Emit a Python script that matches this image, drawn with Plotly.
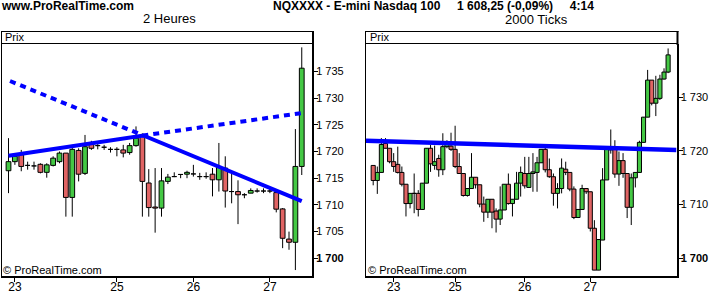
import plotly.graph_objects as go

W, H = 710, 293

# ------------------------------------------------------------------ data
# Left panel: 2-hour candles (open, high, low, close)
left_open = [1716.4, 1718.1, 1719.4, 1717.4, 1717.3, 1717.6, 1716.1, 1717.4, 1718.1, 1719.7,
             1711.4, 1720.2, 1715.9, 1721.5, 1721.1, 1720.8, 1720.4, 1720.4, 1720.3, 1719.8,
             1721.1, 1723.1, 1714.1, 1709.6, 1709.4, 1714.4, 1715.3, 1715.7, 1715.75, 1715.8,
             1715.3, 1715.3, 1715.75, 1714.7, 1716.9, 1712.5, 1712.5, 1711.9, 1712.2, 1712.6,
             1712.6, 1712.6, 1712.3, 1709.25, 1703.6, 1703.0, 1717.2]
left_high = [1722.5, 1719.7, 1720.3, 1718.1, 1718.1, 1717.8, 1717.8, 1719.1, 1720.0, 1719.7,
             1721.25, 1720.6, 1723.1, 1722.0, 1721.6, 1721.25, 1720.8, 1720.8, 1721.25, 1721.6,
             1724.7, 1723.4, 1716.7, 1716.9, 1716.9, 1715.8, 1716.1, 1715.75, 1716.4, 1717.5,
             1716.0, 1716.1, 1716.9, 1721.6, 1719.1, 1716.25, 1714.6, 1712.2, 1713.1, 1713.1,
             1713.1, 1713.2, 1712.5, 1709.4, 1705.0, 1724.2, 1739.5]
left_low = [1712.2, 1717.5, 1716.3, 1716.6, 1716.6, 1715.9, 1715.1, 1717.2, 1717.8, 1707.8,
            1707.8, 1714.4, 1715.6, 1720.3, 1720.4, 1720.3, 1719.8, 1719.1, 1718.9, 1719.4,
            1720.9, 1707.8, 1707.8, 1704.8, 1707.8, 1713.9, 1715.2, 1715.0, 1715.0, 1715.3,
            1714.7, 1714.9, 1711.6, 1712.5, 1709.5, 1710.3, 1706.4, 1711.25, 1712.2, 1712.3,
            1712.2, 1712.2, 1708.6, 1701.9, 1701.6, 1697.8, 1715.6]
left_close = [1718.1, 1719.1, 1717.2, 1717.4, 1717.3, 1716.1, 1717.5, 1718.75, 1719.7, 1711.4,
              1720.4, 1715.75, 1720.9, 1720.6, 1721.1, 1720.8, 1720.4, 1720.4, 1719.7, 1721.1,
              1722.5, 1714.4, 1709.5, 1709.4, 1714.5, 1715.2, 1715.3, 1715.7, 1716.1, 1715.8,
              1715.3, 1715.3, 1714.7, 1717.2, 1712.6, 1712.5, 1711.9, 1711.9, 1712.7, 1712.6,
              1712.6, 1712.6, 1709.2, 1703.75, 1703.0, 1717.2, 1735.6]

# Right panel: 2000-tick candles
right_open = [1717.3, 1714.5, 1716.0, 1721.4, 1720.5, 1718.0, 1717.5, 1716.0, 1713.8, 1710.2,
              1712.1, 1712.1, 1709.1, 1714.0, 1720.5, 1717.3, 1718.6, 1716.5, 1720.8, 1720.9,
              1720.3, 1717.1, 1715.8, 1711.7, 1713.0, 1715.1, 1713.7, 1710.1, 1708.6, 1711.0,
              1708.8, 1707.3, 1709.0, 1713.8, 1710.2, 1711.0, 1714.0, 1715.8, 1713.2, 1715.8,
              1716.0, 1717.8, 1720.3, 1716.5, 1715.2, 1712.1, 1713.0, 1716.6, 1716.0, 1712.9,
              1707.6, 1709.1, 1713.0, 1712.4, 1705.6, 1697.8, 1703.4, 1714.6, 1720.5, 1720.3,
              1715.7, 1718.2, 1715.8, 1709.5, 1715.0, 1716.0, 1721.6, 1726.3, 1733.2, 1728.9,
              1729.8, 1733.4, 1734.7]
right_high = [1717.3, 1717.1, 1722.4, 1722.4, 1720.5, 1719.6, 1720.8, 1717.1, 1713.8, 1712.1,
              1715.8, 1712.7, 1714.0, 1720.5, 1721.1, 1721.0, 1719.3, 1723.3, 1722.0, 1723.4,
              1724.7, 1719.6, 1715.8, 1713.0, 1719.6, 1715.1, 1713.7, 1711.5, 1711.0, 1711.0,
              1709.3, 1713.4, 1713.8, 1715.8, 1711.0, 1716.1, 1717.1, 1718.9, 1718.9, 1719.6,
              1718.9, 1720.3, 1721.1, 1718.6, 1715.8, 1714.0, 1718.6, 1718.0, 1716.0, 1713.4,
              1709.1, 1713.7, 1713.0, 1712.4, 1707.1, 1703.5, 1716.8, 1720.8, 1724.0, 1722.0,
              1719.9, 1719.6, 1715.8, 1715.8, 1716.0, 1721.9, 1726.3, 1735.1, 1733.2, 1734.0,
              1734.2, 1735.4, 1739.1]
right_low = [1713.6, 1712.0, 1716.0, 1720.5, 1717.7, 1716.1, 1715.8, 1713.4, 1707.8, 1709.3,
             1708.4, 1707.8, 1709.0, 1714.0, 1716.1, 1716.5, 1715.2, 1715.5, 1720.5, 1720.0,
             1716.8, 1715.8, 1711.5, 1711.5, 1713.0, 1713.0, 1709.5, 1706.8, 1707.5, 1705.6,
             1704.8, 1706.2, 1709.0, 1710.0, 1707.8, 1711.0, 1711.5, 1713.0, 1713.2, 1712.4,
             1712.4, 1717.8, 1716.0, 1715.0, 1709.8, 1709.3, 1712.1, 1715.5, 1712.5, 1707.3,
             1707.5, 1709.0, 1712.0, 1705.0, 1697.8, 1697.8, 1703.4, 1714.6, 1719.5, 1715.0,
             1713.5, 1715.0, 1707.5, 1706.2, 1713.2, 1716.0, 1721.6, 1726.3, 1728.5, 1726.5,
             1729.5, 1733.3, 1734.5]
right_close = [1714.5, 1716.0, 1721.2, 1720.5, 1718.0, 1717.1, 1716.0, 1713.8, 1710.2, 1712.1,
               1712.1, 1709.1, 1714.0, 1720.5, 1717.6, 1718.0, 1716.5, 1720.8, 1721.4, 1720.3,
               1717.1, 1715.8, 1711.7, 1713.0, 1715.1, 1713.7, 1710.1, 1708.6, 1711.0, 1708.6,
               1707.3, 1709.0, 1713.8, 1710.2, 1711.0, 1714.0, 1716.0, 1713.5, 1715.8, 1716.1,
               1717.8, 1720.3, 1716.5, 1715.2, 1712.1, 1713.0, 1716.8, 1716.0, 1712.9, 1707.6,
               1709.1, 1713.0, 1712.4, 1705.6, 1697.8, 1703.5, 1714.6, 1720.5, 1720.2, 1715.7,
               1718.2, 1715.8, 1709.5, 1715.0, 1716.0, 1721.6, 1726.3, 1733.2, 1728.9, 1729.8,
               1733.4, 1734.7, 1737.9]

# Trend lines (bar index, price)
left_solid_x = [0, 21.15, 46]
left_solid_y = [1719.2, 1723.0, 1710.7]
left_dash_x = [0.24, 21.15, 46]
left_dash_y = [1733.2, 1723.0, 1727.2]
right_line_x = [-1.76, 74.05]
right_line_y = [1721.9, 1720.2]

# Axis ticks
left_day_idx = [1, 17, 29, 41]
left_day_lbl = ["23", "25", "26", "27"]
right_day_idx = [5, 20, 37, 53]
right_day_lbl = ["23", "25", "26", "27"]
left_price_ticks = [1700, 1705, 1710, 1715, 1720, 1725, 1730, 1735]
right_price_ticks = [1700, 1710, 1720, 1730]

# ------------------------------------------------------------------ helpers
GREEN = "#44c844"
RED = "#e06464"
BLUE = "#0000ff"
FONT = "Liberation Sans, Arial, sans-serif"


def px(x):
    return x / W


def py(y):
    return 1 - y / H


def price_label(v):
    s = f"{v // 1000} {v % 1000:03d}"
    if v == 1700:
        return f"<b>{s}</b>"
    return s


fig = go.Figure()


def add_candles(o, h, l, c, width, xa, ya):
    n = len(o)
    wx, wy = [], []
    for i in range(n):
        wx += [i, i, None]
        wy += [l[i], h[i], None]
    fig.add_trace(go.Scatter(x=wx, y=wy, mode="lines", line=dict(color="black", width=1),
                             xaxis=xa, yaxis=ya, hoverinfo="skip", showlegend=False))
    for up, col in ((True, GREEN), (False, RED)):
        bx, by = [], []
        for i in range(n):
            if (c[i] >= o[i]) == up:
                x0, x1 = i - width / 2, i + width / 2
                bx += [x0, x1, x1, x0, x0, None]
                by += [o[i], o[i], c[i], c[i], o[i], None]
        fig.add_trace(go.Scatter(x=bx, y=by, mode="lines", fill="toself", fillcolor=col,
                                 line=dict(color="black", width=1), xaxis=xa, yaxis=ya,
                                 hoverinfo="skip", showlegend=False))


add_candles(left_open, left_high, left_low, left_close, 0.75, "x", "y")
add_candles(right_open, right_high, right_low, right_close, 1.0, "x2", "y2")

fig.add_trace(go.Scatter(x=left_dash_x, y=left_dash_y, mode="lines",
                         line=dict(color=BLUE, width=4, dash="6px,5px"),
                         xaxis="x", yaxis="y", hoverinfo="skip", showlegend=False))
fig.add_trace(go.Scatter(x=left_solid_x, y=left_solid_y, mode="lines",
                         line=dict(color=BLUE, width=4),
                         xaxis="x", yaxis="y", hoverinfo="skip", showlegend=False))
fig.add_trace(go.Scatter(x=right_line_x, y=right_line_y, mode="lines",
                         line=dict(color=BLUE, width=4.5),
                         xaxis="x2", yaxis="y2", hoverinfo="skip", showlegend=False))

# ------------------------------------------------------------------ axes
L_X0, L_X1 = 2, 312
R_X0, R_X1 = 366, 676.5
Y_TOP, Y_BOT = 44, 276

common_x = dict(showgrid=False, zeroline=False, showline=True, linewidth=2, linecolor="black",
                ticks="outside", ticklen=4, tickwidth=1, tickcolor="black",
                tickfont=dict(family=FONT, size=12, color="black"), fixedrange=True,
                automargin=False, ticklabelstandoff=-5)
common_y = dict(showgrid=False, zeroline=False, showline=True, linewidth=2, linecolor="black",
                ticks="outside", ticklen=4, tickwidth=1, tickcolor="black", side="right",
                tickfont=dict(family=FONT, size=11, color="black"), fixedrange=True,
                automargin=False, ticklabelstandoff=-4)

fig.update_layout(
    xaxis=dict(domain=[px(L_X0), px(L_X1)], range=[(L_X0 - 8.5) / 6.375, (L_X1 - 8.5) / 6.375],
               anchor="y", tickvals=left_day_idx, ticktext=left_day_lbl, **common_x),
    yaxis=dict(domain=[py(Y_BOT), py(Y_TOP)],
               range=[1700 + (258.3 - Y_BOT) / 5.34, 1700 + (258.3 - Y_TOP) / 5.34],
               anchor="x", tickvals=left_price_ticks,
               ticktext=[price_label(v) for v in left_price_ticks], **common_y),
    xaxis2=dict(domain=[px(R_X0), px(R_X1)], range=[(R_X0 - 373.2) / 4.096, (R_X1 - 373.2) / 4.096],
                anchor="y2", tickvals=right_day_idx, ticktext=right_day_lbl, **common_x),
    yaxis2=dict(domain=[py(Y_BOT), py(Y_TOP)],
                range=[1700 + (258.3 - Y_BOT) / 5.367, 1700 + (258.3 - Y_TOP) / 5.367],
                anchor="x2", tickvals=right_price_ticks,
                ticktext=[price_label(v) for v in right_price_ticks], **common_y),
)

# ------------------------------------------------------------------ frames
shapes = []


def line(x0, y0, x1, y1, w=1):
    shapes.append(dict(type="line", xref="paper", yref="paper", x0=px(x0), y0=py(y0),
                       x1=px(x1), y1=py(y1), line=dict(color="black", width=w)))


for bx0, bx1 in ((1.5, 313), (365.5, 677.5)):
    line(bx0 - 0.5, 31.5, bx1 + 1, 31.5)          # top
    line(bx0, 31, bx0, 278)                      # left
    line(bx0 - 0.5, 43.5, bx1, 43.5)             # header divider
    line(bx1, 31, bx1, 45, 2)                    # right edge in header

annotations = []


def text(x, y, s, size, anchor="left", bold=False):
    if bold:
        s = f"<b>{s}</b>"
    annotations.append(dict(xref="paper", yref="paper", x=px(x), y=py(y), text=s,
                            showarrow=False, xanchor=anchor, yanchor="middle",
                            font=dict(family=FONT, size=size, color="black"), borderpad=0))


NB = "\u00a0"
text(0, 6.5, "www.ProRealTime.com", 12, bold=True)
text(272, 6, f"NQXXXX - E-mini Nasdaq 100{NB*5}1 608,25 (-0,09%){NB*5}4:14", 12, bold=True)
text(169, 19, "2 Heures", 13, anchor="center")
text(536, 19.5, "2000 Ticks", 13, anchor="center")
text(4, 37, "Prix", 11)
text(369, 37, "Prix", 11)
text(2, 270, "© ProRealTime.com", 11)
text(367, 270, "© ProRealTime.com", 11)

fig.update_layout(
    width=W, height=H, margin=dict(l=0, r=0, t=0, b=0),
    paper_bgcolor="white", plot_bgcolor="white", showlegend=False,
    hovermode=False, shapes=shapes, annotations=annotations,
    font=dict(family=FONT, color="black"),
)

fig.write_html("out.html")
